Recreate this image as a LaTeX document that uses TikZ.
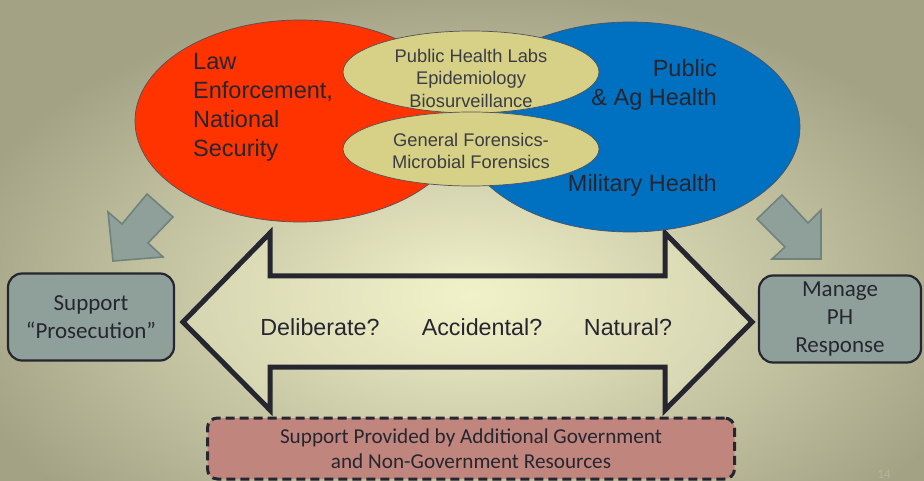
\documentclass[tikz,border=0pt]{standalone}
\usepackage{fontspec}
\setmainfont{Liberation Sans}
\newfontfamily\calib{Carlito}
\usetikzlibrary{shapes.geometric}
\definecolor{bgin}{HTML}{F2F2CA}
\definecolor{bgout}{HTML}{A3A285}
\definecolor{redell}{HTML}{FF3300}
\definecolor{blueell}{HTML}{0070C0}
\definecolor{khaki}{HTML}{D6D186}
\definecolor{grayfill}{HTML}{8FA09A}
\definecolor{grayline}{HTML}{6F827B}
\definecolor{rose}{HTML}{C0857C}
\definecolor{ink}{HTML}{262630}
\definecolor{pgnum}{HTML}{B4B49C}
\tikzset{
  bigell/.style={ellipse, draw=ink!80, line width=0.7pt, inner sep=0pt},
  smallell/.style={ellipse, fill=khaki, draw=ink!80, line width=0.7pt, inner sep=0pt, minimum width=256pt},
  bigtxt/.style={font=\fontsize{23.5}{29}\selectfont, text=ink, inner sep=0pt},
  smtxt/.style={font=\fontsize{18.3}{22.5}\selectfont, text=ink!90, align=center, inner sep=0pt},
  boxtxt/.style={font=\calib\fontsize{23}{28}\selectfont, text=ink, align=center},
  sidebox/.style={rectangle, rounded corners=14pt, fill=grayfill, draw=ink, line width=2.2pt, boxtxt},
  grayarrow/.style={fill=grayfill, draw=grayline, line width=1.6pt, line join=miter},
  midtxt/.style={font=\fontsize{23.3}{27}\selectfont, text=ink, inner sep=0pt},
}
\begin{document}
\begin{tikzpicture}[x=1pt,y=-1pt]
\useasboundingbox (0,0) rectangle (924,481);
\begin{scope}
\clip (0,0) rectangle (924,481);
\shade[inner color=bgin, outer color=bgout] (-60,-10) rectangle (1000,600);
\end{scope}
\node[font=\calib\fontsize{13}{15}\selectfont, text=pgnum, anchor=south, inner sep=0pt] (pg) at (884,479) {14};

% double arrow
\coordinate (ltip) at (183,322);
\coordinate (rtip) at (752,322);
\draw[ink, line width=5pt, line join=miter, fill=bgin, fill opacity=0.35]
  (ltip) -- (270,233) -- (270,276) -- (665,276) -- (665,233) -- (rtip)
  -- (665,410) -- (665,367) -- (270,367) -- (270,410) -- cycle;
\node[midtxt] (delib) at (320,327) {Deliberate?};
\node[midtxt] (accid) at (482,327) {Accidental?};
\node[midtxt] (natur) at (628,327) {Natural?};

% big ellipses
\node[bigell, fill=blueell, minimum width=340pt, minimum height=210pt] (blue) at (630,127) {};
\node[bigell, fill=redell, minimum width=330pt, minimum height=202pt] (red) at (300,121) {};

% small ellipses
\node[smallell, minimum height=82pt] (labs) at (471,72) {};
\node[smallell, minimum height=74pt] (foren) at (471,149) {};

\node[smtxt] (labstxt) at (471,78) {Public Health Labs\\Epidemiology\\Biosurveillance};
\node[smtxt] (forentxt) at (471,151) {General Forensics-\\Microbial Forensics};

\node[bigtxt, align=left, anchor=west] (law) at (193,107) {Law\\Enforcement,\\National\\Security};
\node[bigtxt, align=right, anchor=east] (pub) at (717,85) {Public\\\& Ag Health};
\node[bigtxt, anchor=east] (mil) at (717,185) {Military Health};

% gray arrows
\draw[grayarrow] (108,212) -- (122,224) -- (147,194) -- (173,217) -- (148,243) -- (163,257) -- (113,261) -- cycle;
\draw[grayarrow] (782,195) -- (808,223) -- (821,210) -- (821,259) -- (772,259) -- (785,247) -- (757,219) -- cycle;

% side boxes
\node[sidebox, minimum width=166pt, minimum height=87pt] (pros) at (91,317) {Support\\“Prosecution”};
\node[sidebox, minimum width=162pt, minimum height=87pt] (manage) at (840,319) {Manage\\PH\\Response};

% bottom dashed box
\node[rectangle, rounded corners=10pt, fill=rose, draw=ink, line width=3pt, dash pattern=on 9pt off 5pt,
  minimum width=527pt, minimum height=61pt, font=\calib\fontsize{21.2}{25}\selectfont, text=ink, align=center]
  (support) at (471,448.5) {Support Provided by Additional Government\\and Non-Government Resources};
\end{tikzpicture}
\end{document}
